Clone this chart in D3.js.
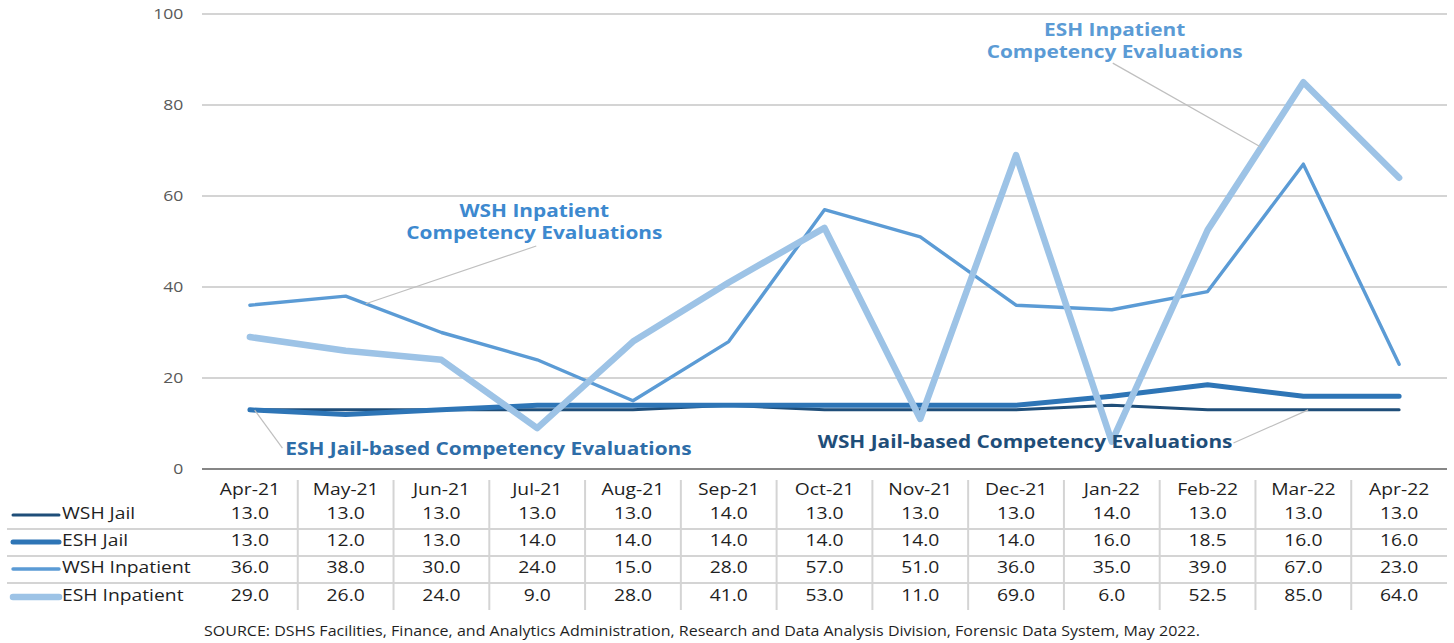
<!DOCTYPE html>
<html lang="en">
<head>
<meta charset="utf-8">
<title>Competency Evaluations</title>
<style>
  body { margin: 0; background: #fff; }
  text { font-family: "Open Sans", "Noto Sans", sans-serif; }
  .tick line, .domain { display: none; }
</style>
<script src="https://cdn.jsdelivr.net/npm/d3@7"></script>
</head>
<body>
<div id="chart"></div>
<script>

var months = ["Apr-21", "May-21", "Jun-21", "Jul-21", "Aug-21", "Sep-21", "Oct-21",
              "Nov-21", "Dec-21", "Jan-22", "Feb-22", "Mar-22", "Apr-22"];
var seriesNames = ["WSH Jail", "ESH Jail", "WSH Inpatient", "ESH Inpatient"];
var wshJail      = [13, 13, 13, 13, 13, 14, 13, 13, 13, 14, 13, 13, 13];
var eshJail      = [13, 12, 13, 14, 14, 14, 14, 14, 14, 16, 18.5, 16, 16];
var wshInpatient = [36, 38, 30, 24, 15, 28, 57, 51, 36, 35, 39, 67, 23];
var eshInpatient = [29, 26, 24, 9, 28, 41, 53, 11, 69, 6, 52.5, 85, 64];
var yTicks = [0, 20, 40, 60, 80, 100];
var source = "SOURCE: DSHS Facilities, Finance, and Analytics Administration, Research and Data Analysis Division, Forensic Data System, May 2022.";

var width = 1454, height = 643;
var S = 1.17; // horizontal stretch of the text

var series = [
  { name: seriesNames[0], values: wshJail,      color: "#1F4E79", w: 3 },
  { name: seriesNames[1], values: eshJail,      color: "#2E75B6", w: 5 },
  { name: seriesNames[2], values: wshInpatient, color: "#5B9BD5", w: 3.4 },
  { name: seriesNames[3], values: eshInpatient, color: "#9DC3E6", w: 6.5 }
];

var svg = d3.select("#chart").append("svg")
  .attr("width", width)
  .attr("height", height);

var x = d3.scaleBand().domain(months).range([202, 1447]);
var y = d3.scaleLinear().domain([0, 100]).range([469, 14]);
var xi = d3.scaleLinear().domain([0, months.length - 1])
  .range([x(months[0]) + x.bandwidth() / 2, x(months[months.length - 1]) + x.bandwidth() / 2]);

function addText(parent, px, py, str, anchor) {
  return parent.append("text")
    .attr("transform", "translate(" + px + "," + py + ") scale(" + S + ",1)")
    .attr("text-anchor", anchor || "start")
    .text(str);
}

// value along a series at fractional index
function valueAt(vals, t) {
  var i = Math.min(Math.floor(t), vals.length - 2), f = t - i;
  return vals[i] + (vals[i + 1] - vals[i]) * f;
}

// gridlines
svg.append("g").selectAll("line")
  .data(yTicks)
  .enter().append("line")
  .attr("x1", 202).attr("x2", 1447)
  .attr("y1", function(d) { return y(d); })
  .attr("y2", function(d) { return y(d); })
  .attr("stroke", function(d) { return d === 0 ? "#868686" : "#C6C6C6"; })
  .attr("stroke-width", function(d) { return d === 0 ? 2.2 : 1.6; });

// y axis labels
var yAxis = svg.append("g")
  .attr("transform", "translate(202,0)")
  .call(d3.axisLeft(y).tickValues(yTicks).tickSize(0).tickPadding(16));
yAxis.selectAll("text")
  .attr("transform", "scale(" + S + ",1)")
  .style("font-family", "'Open Sans', sans-serif")
  .style("font-size", "15px")
  .attr("fill", "#595959");

// lines
var line = d3.line()
  .x(function(d, i) { return x(months[i]) + x.bandwidth() / 2; })
  .y(function(d) { return y(d); });

svg.append("g").selectAll("path")
  .data(series)
  .enter().append("path")
  .attr("d", function(d) { return line(d.values); })
  .attr("fill", "none")
  .attr("stroke", function(d) { return d.color; })
  .attr("stroke-width", function(d) { return d.w; })
  .attr("stroke-linejoin", "round")
  .attr("stroke-linecap", "round");

// annotations
var notes = [
  { lines: ["ESH Inpatient", "Competency Evaluations"], s: 3, at: 10.56,
    tx: 9.03, ty: 95.2, anchor: "middle", lx: 9.01, ly: 89.2, color: "#5B9BD5" },
  { lines: ["WSH Inpatient", "Competency Evaluations"], s: 2, at: 1.21,
    tx: 2.97, ty: 55.4, anchor: "middle", lx: 2.99, ly: 49.0, color: "#3D89CF" },
  { lines: ["ESH Jail-based Competency Evaluations"], s: 1, at: 0.05,
    tx: 0.37, ty: 3.1, anchor: "start", lx: 0.34, ly: 4.6, color: "#2E6DA8" },
  { lines: ["WSH Jail-based Competency Evaluations"], s: 0, at: 11.05,
    tx: 10.26, ty: 4.6, anchor: "end", lx: 10.27, ly: 5.7, color: "#1F4E79" }
];

var ann = svg.append("g");
notes.forEach(function(n) {
  ann.append("line")
    .attr("x1", xi(n.lx)).attr("y1", y(n.ly))
    .attr("x2", xi(n.at)).attr("y2", y(valueAt(series[n.s].values, n.at)))
    .attr("stroke", "#BFBFBF").attr("stroke-width", 1.2);
  n.lines.forEach(function(l, k) {
    addText(ann, xi(n.tx), y(n.ty) + k * 22, l, n.anchor)
      .attr("fill", n.color)
      .style("font-size", "17.8px")
      .style("font-weight", "bold");
  });
});

// data table
var table = svg.append("g");
var rowBase = [519, 546, 573, 601];

table.selectAll(".rule")
  .data([529, 556, 583])
  .enter().append("line")
  .attr("x1", 7).attr("x2", 1447)
  .attr("y1", function(d) { return d; }).attr("y2", function(d) { return d; })
  .attr("stroke", "#D4D4D4").attr("stroke-width", 2);

table.selectAll(".col")
  .data(months.slice(1))
  .enter().append("line")
  .attr("x1", function(d) { return x(d); }).attr("x2", function(d) { return x(d); })
  .attr("y1", 480).attr("y2", 610)
  .attr("stroke", "#D4D4D4").attr("stroke-width", 2);

months.forEach(function(m) {
  addText(table, x(m) + x.bandwidth() / 2, 495, m, "middle")
    .attr("fill", "#1F1F1F").style("font-size", "16.5px");
});

series.forEach(function(s, r) {
  table.append("line")
    .attr("x1", 13).attr("x2", 59)
    .attr("y1", rowBase[r] - 4).attr("y2", rowBase[r] - 4)
    .attr("stroke", s.color).attr("stroke-width", s.w)
    .attr("stroke-linecap", "round");
  addText(table, 62, rowBase[r], s.name, "start")
    .attr("fill", "#1F1F1F").style("font-size", "16.5px");
  s.values.forEach(function(v, i) {
    addText(table, x(months[i]) + x.bandwidth() / 2, rowBase[r], v.toFixed(1), "middle")
      .attr("fill", "#1F1F1F").style("font-size", "16.5px");
  });
});

addText(svg, 204, 636, source, "start")
  .attr("fill", "#1F1F1F").style("font-size", "13.7px");

</script>
</body>
</html>
